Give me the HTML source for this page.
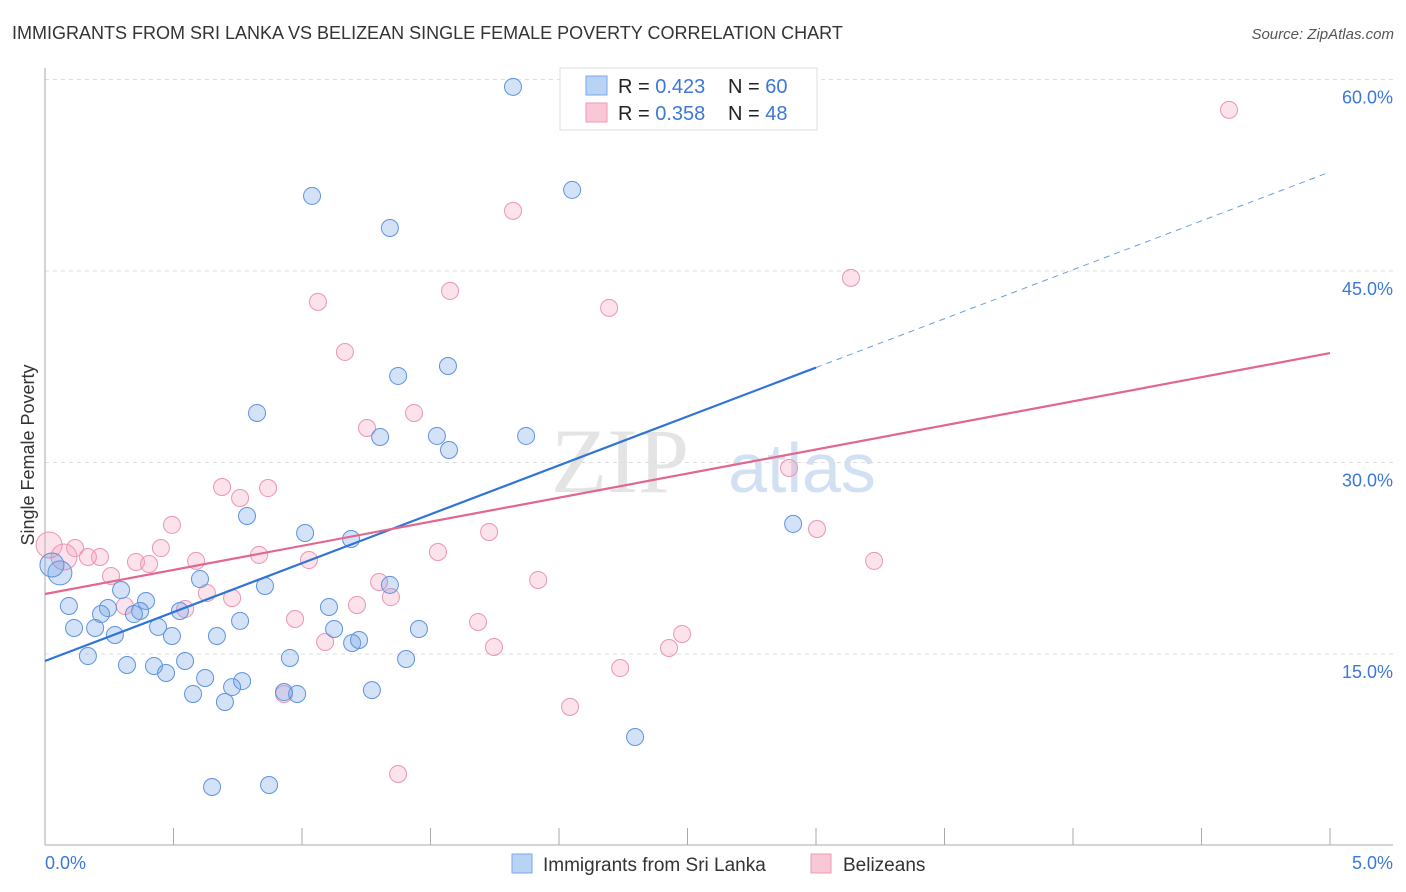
<!DOCTYPE html>
<html><head><meta charset="utf-8"><style>
body{margin:0;background:#fff;font-family:"Liberation Sans",sans-serif;}
svg{display:block}
</style></head><body>
<svg id="chart" width="1406" height="892" xmlns="http://www.w3.org/2000/svg">
<text x="12" y="39" font-size="18" fill="#333">IMMIGRANTS FROM SRI LANKA VS BELIZEAN SINGLE FEMALE POVERTY CORRELATION CHART</text>
<text x="1394" y="39" font-size="15" fill="#555" font-style="italic" text-anchor="end">Source: ZipAtlas.com</text>
<text x="620" y="492" font-size="92" fill="#e4e4e4" font-family="Liberation Serif,serif" text-anchor="middle">ZIP</text>
<text x="802" y="492" font-size="70" fill="#d2e0f4" text-anchor="middle">atlas</text>
<g id="grid"></g>
<g id="axes"></g>
<g id="marks"></g>
<text transform="translate(34,455) rotate(-90)" font-size="18" fill="#333" text-anchor="middle">Single Female Poverty</text>
<text x="45" y="869" font-size="18" fill="#3b78d8">0.0%</text>
<text x="1393" y="869" font-size="18" fill="#3b78d8" text-anchor="end">5.0%</text>
<g>
<rect x="560" y="68" width="257" height="62" fill="#fff" stroke="#ddd"/>
<rect x="586" y="76" width="21" height="19" fill="#b9d3f5" stroke="#7aa6e6"/>
<rect x="586" y="103" width="21" height="19" fill="#f9c8d6" stroke="#ec9ab4"/>
<text x="618" y="93" font-size="20" fill="#222">R = <tspan fill="#3b78d8">0.423</tspan><tspan x="728">N = </tspan><tspan fill="#3b78d8">60</tspan></text>
<text x="618" y="120" font-size="20" fill="#222">R = <tspan fill="#3b78d8">0.358</tspan><tspan x="728">N = </tspan><tspan fill="#3b78d8">48</tspan></text>
</g>
<g>
<rect x="512" y="854" width="20" height="19" fill="#b9d3f5" stroke="#7aa6e6"/>
<text x="543" y="871" font-size="19" fill="#333">Immigrants from Sri Lanka</text>
<rect x="811" y="854" width="20" height="19" fill="#f9c8d6" stroke="#ec9ab4"/>
<text x="843" y="871" font-size="19" fill="#333">Belizeans</text>
</g>
</svg>
<script>
const yTicks=[15,30,45,60];
const yTickLabels=["15.0%","30.0%","45.0%","60.0%"];
const blueX=[1.821,2.051,1.039,1.342,1.568,1.374,0.825,1.304,1.525,1.572,1.872,2.911,0.786,1.012,1.191,0.603,0.856,1.342,0.296,0.393,0.093,0.245,0.370,0.218,0.346,0.525,1.105,0.759,0.113,0.195,0.440,1.125,1.455,0.272,0.494,0.669,0.167,1.195,1.222,0.953,1.405,0.319,0.424,0.545,0.471,0.623,0.767,0.728,0.576,0.700,0.930,0.981,1.272,2.296,0.650,0.872];
const blueY=[59.42,51.35,50.88,48.37,37.56,36.78,33.88,32.00,32.08,30.98,32.08,25.19,25.81,24.48,24.01,20.87,20.33,20.41,20.01,19.15,18.76,18.60,18.37,18.13,18.13,18.37,18.68,17.59,17.04,17.04,17.12,16.96,16.96,16.49,16.41,16.41,14.84,15.86,16.10,14.69,14.61,14.14,14.06,14.45,13.51,13.12,12.88,12.41,11.87,11.24,12.02,11.87,12.17,8.50,4.58,4.74];
const blueBigX=[0.058,0.027];
const blueBigY=[21.35,21.97];
const pinkX=[4.607,1.821,3.136,1.576,1.062,2.195,1.167,1.436,1.253,2.895,0.689,0.868,0.759,0.494,1.728,3.004,0.117,0.451,1.529,0.833,0.214,0.167,0.588,1.027,0.354,0.405,3.226,0.257,1.919,1.300,0.630,1.346,0.728,0.311,1.214,0.545,0.973,1.685,1.090,1.747,2.479,2.428,2.238,0.930,2.043,1.374];
const pinkY=[57.62,49.71,44.46,43.44,42.58,42.11,38.66,33.88,32.70,29.57,28.08,28.00,27.22,25.11,24.56,24.79,23.30,23.30,22.99,22.76,22.60,22.60,22.29,22.36,22.21,22.05,22.29,21.11,20.80,20.64,19.78,19.46,19.39,18.76,18.84,18.52,17.74,17.51,15.94,15.55,16.57,15.47,13.90,11.87,10.86,5.60];
const pinkBigX=[0.016,0.074];
const pinkBigY=[23.54,22.60];
const blueTrend=[14.45,52.76]; // y at x=0 and x=5
const blueSolidEnd=3.0;
const pinkTrend=[19.70,38.57];

const NS="http://www.w3.org/2000/svg";
const X=v=>45+v/5*1285;
const Y=v=>845.5-v/15*191.5;
function mk(tag,attrs,parent){const e=document.createElementNS(NS,tag);for(const k in attrs)e.setAttribute(k,attrs[k]);parent.appendChild(e);return e;}
const grid=document.getElementById('grid'),axes=document.getElementById('axes'),marks=document.getElementById('marks');
yTicks.forEach((t,i)=>{
  const l=mk('line',{x1:45,x2:1393,y1:Y(t),y2:Y(t),stroke:'#ddd','stroke-dasharray':'4,4'},grid);
  
  
  const tx=mk('text',{x:1393,y:Y(t)+24,'font-size':18,fill:'#3b78d8','text-anchor':'end'},grid);
  tx.textContent=yTickLabels[i];
  
  
});
const ax=mk('line',{x1:45,x2:1393,y1:845,y2:845,stroke:'#aaa'},axes);


const ay=mk('line',{x1:45,x2:45,y1:68,y2:845,stroke:'#aaa'},axes);


for(let k=0;k<=10;k++){
  const t=mk('line',{x1:X(k*0.5),x2:X(k*0.5),y1:828,y2:845,stroke:'#aaa'},axes);
  
  
}
function dots(xs,ys,r,fill,stroke,name){
  xs.forEach((x,i)=>{
    const c=mk('circle',{cx:X(x),cy:Y(ys[i]),r:r,fill:fill,stroke:stroke,'stroke-width':1},marks);
    
    
  });
}
dots(pinkX,pinkY,8.5,'rgba(244,160,188,0.3)','#eb95b2','belizean-point');
dots(pinkBigX,pinkBigY,13,'rgba(244,160,188,0.3)','#eb95b2','belizean-point');
dots(blueX,blueY,8.5,'rgba(110,160,230,0.3)','#5d93de','sri-lanka-point');
dots(blueBigX,blueBigY,12,'rgba(110,160,230,0.3)','#5d93de','sri-lanka-point');
const by=x=>blueTrend[0]+(blueTrend[1]-blueTrend[0])*x/5;
const py=x=>pinkTrend[0]+(pinkTrend[1]-pinkTrend[0])*x/5;
const b1=mk('line',{x1:X(0),y1:Y(by(0)),x2:X(blueSolidEnd),y2:Y(by(blueSolidEnd)),stroke:'#2f74d8','stroke-width':2.2},marks);


const b2=mk('line',{x1:X(blueSolidEnd),y1:Y(by(blueSolidEnd)),x2:X(5),y2:Y(by(5)),stroke:'#6a9de3','stroke-width':1,'stroke-dasharray':'6,5'},marks);


const p1=mk('line',{x1:X(0),y1:Y(py(0)),x2:X(5),y2:Y(py(5)),stroke:'#e3668f','stroke-width':2.2},marks);


</script>
</body></html>
